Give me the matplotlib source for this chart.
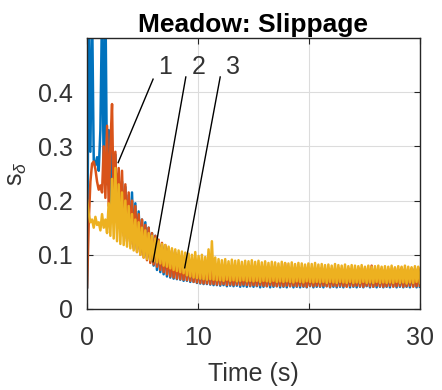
import numpy as np
import matplotlib
matplotlib.use("Agg")
import matplotlib.pyplot as plt

plt.rcParams['font.family'] = ['Liberation Sans', 'DejaVu Sans']
plt.rcParams['mathtext.fontset'] = 'custom'
plt.rcParams['mathtext.rm'] = 'Liberation Sans'
plt.rcParams['mathtext.it'] = 'Liberation Sans:italic'

# Sample times (s)
time_s = np.arange(201) * 0.15

# Slippage for the three runs, in thousandths
slip_1 = [
    40, 520, 290, 560, 275, 265, 280, 255, 330, 560, 250, 580, 230, 330, 190, 300, 175, 285, 160, 250,
    150, 235, 140, 225, 130, 210, 125, 215, 115, 195, 110, 180, 105, 165, 100, 160, 95, 150, 88, 140,
    80, 135, 72, 125, 68, 118, 64, 115, 60, 110, 58, 105, 56, 100, 55, 98, 54, 95, 52, 92,
    52, 90, 50, 88, 50, 86, 48, 84, 47, 85, 46, 82, 46, 80, 45, 80, 44, 78, 44, 78,
    43, 76, 44, 75, 42, 77, 43, 74, 42, 73, 43, 75, 41, 72, 42, 74, 41, 71, 42, 73,
    41, 72, 42, 70, 40, 73, 41, 71, 42, 70, 40, 72, 41, 69, 42, 71, 40, 70, 41, 72,
    40, 69, 42, 71, 40, 70, 41, 68, 40, 71, 41, 69, 40, 70, 42, 68, 40, 71, 41, 69,
    41, 70, 40, 68, 42, 71, 40, 69, 41, 70, 40, 72, 41, 68, 40, 70, 42, 69, 40, 71,
    41, 68, 40, 70, 41, 72, 40, 69, 42, 70, 40, 68, 41, 71, 40, 69, 41, 72, 40, 70,
    41, 69, 40, 71, 42, 68, 40, 72, 41, 70, 40, 73, 41, 69, 40, 71, 42, 74, 40, 72, 41,
]
slip_2 = [
    40, 160, 235, 268, 272, 258, 235, 220, 228, 215, 300, 205, 338, 190, 300, 378, 180, 290, 165, 260,
    150, 255, 135, 230, 125, 215, 120, 200, 112, 190, 105, 175, 100, 165, 95, 155, 90, 150, 85, 140,
    82, 135, 78, 128, 72, 122, 68, 118, 64, 112, 60, 108, 58, 104, 56, 100, 55, 98, 54, 95,
    53, 92, 52, 90, 50, 88, 49, 86, 48, 88, 47, 84, 47, 83, 46, 82, 46, 80, 45, 80,
    45, 79, 46, 78, 44, 80, 45, 77, 44, 78, 45, 82, 44, 76, 45, 78, 44, 77, 43, 79,
    44, 76, 43, 78, 44, 75, 43, 77, 42, 76, 44, 74, 43, 77, 42, 75, 43, 76, 42, 84,
    43, 75, 42, 74, 43, 76, 42, 73, 43, 75, 42, 77, 41, 74, 43, 73, 42, 75, 43, 74,
    42, 76, 43, 73, 42, 75, 41, 74, 43, 72, 42, 76, 43, 74, 42, 73, 41, 75, 43, 74,
    42, 73, 43, 76, 42, 74, 41, 75, 43, 73, 42, 80, 41, 74, 43, 72, 42, 75, 41, 73,
    42, 74, 43, 72, 41, 75, 42, 73, 43, 76, 41, 74, 42, 72, 43, 75, 41, 74, 42, 76, 43,
]
slip_3 = [
    200, 175, 160, 165, 150, 170, 155, 160, 145, 175, 150, 165, 140, 195, 135, 240, 130, 260, 125, 230,
    120, 215, 118, 200, 115, 190, 112, 175, 108, 165, 105, 160, 100, 150, 95, 145, 92, 140, 90, 135,
    88, 130, 86, 125, 84, 120, 80, 118, 78, 115, 75, 112, 72, 110, 70, 108, 68, 106, 66, 104,
    62, 102, 60, 100, 58, 105, 57, 98, 56, 100, 55, 96, 54, 110, 55, 125, 54, 95, 53, 92,
    53, 90, 52, 92, 54, 88, 52, 91, 53, 89, 51, 90, 52, 87, 53, 89, 51, 88, 52, 90,
    51, 87, 52, 89, 50, 86, 52, 88, 51, 85, 50, 87, 52, 86, 50, 84, 51, 87, 50, 85,
    51, 84, 50, 86, 49, 83, 51, 85, 50, 84, 49, 82, 51, 84, 50, 83, 49, 85, 50, 82,
    49, 83, 50, 81, 48, 82, 50, 80, 49, 83, 48, 81, 50, 80, 49, 82, 48, 79, 50, 81,
    48, 80, 49, 79, 48, 81, 50, 78, 48, 80, 49, 78, 48, 79, 50, 80, 48, 78, 49, 79,
    48, 78, 49, 80, 48, 77, 50, 79, 48, 78, 49, 80, 47, 78, 49, 77, 48, 79, 50, 78, 48,
]
series = [slip_1, slip_2, slip_3]
colors = ['#0072BD', '#D95319', '#EDB120']

# Callout labels: text position and line ends (time, slippage)
run_labels = ['1', '2', '3']
label_xy = [(7.0, 0.446), (10.1, 0.446), (13.15, 0.446)]
line_start = [(5.95, 0.424), (8.9, 0.428), (12.0, 0.428)]
line_end = [(2.8, 0.270), (5.95, 0.087), (8.8, 0.076)]

x_ticks = [0, 10, 20, 30]
y_ticks = [0, 0.1, 0.2, 0.3, 0.4]
y_tick_labels = ['0', '0.1', '0.2', '0.3', '0.4']

txt_color = '#333333'

fig = plt.figure(figsize=(4.42, 3.90), dpi=100)
ax = fig.add_axes([0.197, 0.2077, 0.753, 0.695])

for vals, c in zip(series, colors):
    ax.plot(time_s, np.array(vals) / 1000.0, color=c, lw=1.8)

for lab, (tx, ty), (x0, y0), (x1, y1) in zip(run_labels, label_xy, line_start, line_end):
    ax.plot([x0, x1], [y0, y1], color='black', lw=1.0)
    ax.text(tx, ty, lab, fontsize=18, color=txt_color, ha='center', va='center')

ax.set_xlim(0, 30)
ax.set_ylim(0, 0.5)
ax.set_xticks(x_ticks)
ax.set_yticks(y_ticks)
ax.set_yticklabels(y_tick_labels)
ax.grid(True, color='#dcdcdc', lw=0.8)
ax.set_axisbelow(True)
ax.tick_params(direction='in', top=True, right=True, labelsize=18,
               colors='#262626', labelcolor=txt_color, length=4)
ax.tick_params(axis='x', pad=12)
ax.tick_params(axis='y', pad=10)
for sp in ax.spines.values():
    sp.set_color('#262626')
    sp.set_linewidth(1.0)

ax.set_xlabel('Time (s)', fontsize=18, color=txt_color, labelpad=9)
ax.set_ylabel(r'$\mathrm{s}_{\delta}$', fontsize=18, color=txt_color, labelpad=7)
ax.set_title('Meadow: Slippage', fontsize=19, fontweight='bold', color='black', pad=4)

fig.savefig('out.png', dpi=100)
